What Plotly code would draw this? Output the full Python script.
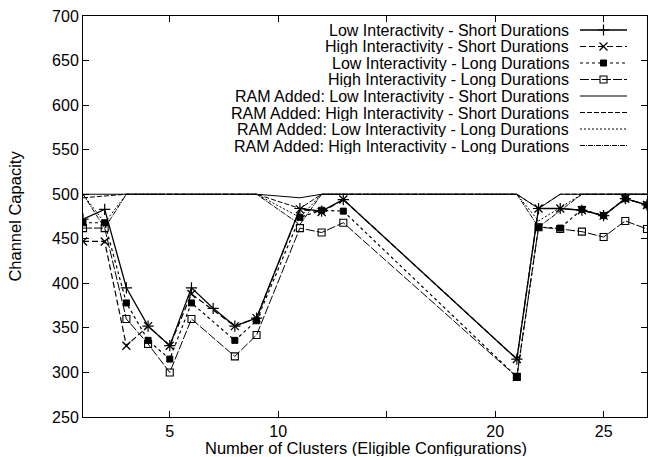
import plotly.graph_objects as go

# Cluster counts evaluated
clusters = [1, 2, 3, 4, 5, 6, 7, 8, 9, 11, 12, 13, 21, 22, 23, 24, 25, 26, 27]

low_short = [472, 483, 395, 352, 330, 395, 372, 352, 361, 484, 481, 494, 315, 484, 484, 482, 476, 495, 488]
high_short = [447, 447, 330, 352, 330, 388, None, 352, 361, 483, 480, 494, 315, 484, 484, 482, 476, 495, 488]
low_long = [468, 468, 378, 336, 315, 378, None, 336, 358, 474, 482, 481, 295, 463, 462, 483, 476, 495, 488]
high_long = [462, 462, 360, 332, 300, 360, None, 318, 342, 462, 457, 468, 295, 463, 461, 458, 452, 470, 461]

# RAM-added capacities (capped at 500)
ram_low_short_x = [1, 9, 11, 12, 21, 22, 23, 27]
ram_low_short = [500, 500, 496, 500, 500, 484, 500, 500]
ram_high_short_x = [1, 3, 9, 11, 12, 21, 22, 23, 27]
ram_high_short = [496, 500, 500, 484, 500, 500, 484, 500, 500]
ram_low_long_x = [1, 2, 3, 9, 11, 12, 21, 22, 24, 27]
ram_low_long = [500, 468, 500, 500, 474, 500, 500, 470, 500, 500]
ram_high_long_x = [1, 2, 3, 9, 11, 12, 21, 22, 24, 27]
ram_high_long = [500, 462, 500, 500, 466, 500, 500, 463, 500, 500]

legend_names = [
    "Low Interactivity - Short Durations",
    "High Interactivity - Short Durations",
    "Low Interactivity - Long Durations",
    "High Interactivity - Long Durations",
    "RAM Added: Low Interactivity - Short Durations",
    "RAM Added: High Interactivity - Short Durations",
    "RAM Added: Low Interactivity - Long Durations",
    "RAM Added: High Interactivity - Long Durations",
]

FONT = "Liberation Sans, Arial, sans-serif"
FS_TICK = 16
FS_KEY = 16
FS_TITLE = 16.5

styles = [
    dict(line=dict(color="black", width=1.3, dash="solid"),
         marker=dict(symbol="cross-thin-open", size=8, color="black", line=dict(color="black", width=1.2))),
    dict(line=dict(color="black", width=1.2, dash="6px,3px"),
         marker=dict(symbol="x-thin-open", size=8, color="black", line=dict(color="black", width=1.3))),
    dict(line=dict(color="black", width=1.2, dash="3px,3px"),
         marker=dict(symbol="square", size=6, color="black", line=dict(color="black", width=1))),
    dict(line=dict(color="black", width=1.0, dash="9px,2px"),
         marker=dict(symbol="square-open", size=7, color="black", line=dict(color="black", width=1.1))),
    dict(line=dict(color="black", width=1.0, dash="solid")),
    dict(line=dict(color="black", width=1.0, dash="5px,2px")),
    dict(line=dict(color="black", width=1.0, dash="2px,2px")),
    dict(line=dict(color="black", width=1.0, dash="5px,1px,1px,1px")),
]

series = [
    (clusters, low_short), (clusters, high_short), (clusters, low_long), (clusters, high_long),
    (ram_low_short_x, ram_low_short), (ram_high_short_x, ram_high_short),
    (ram_low_long_x, ram_low_long), (ram_high_long_x, ram_high_long),
]

fig = go.Figure()

for i, ((xs, ys), st) in enumerate(zip(series, styles)):
    mode = "lines+markers" if "marker" in st else "lines"
    fig.add_trace(go.Scatter(x=xs, y=ys, mode=mode, connectgaps=True,
                             showlegend=False, name=legend_names[i], **st))

# Key drawn inside the plot: right-aligned text with the line sample to its right
W, H = 648, 457
L, R, T, B = 83, 1, 16, 40
pw, ph = W - L - R, H - T - B
row0, step = 30, 16.5
text_right = (570 - L) / pw
s0, s1 = (580 - L) / pw, (627 - L) / pw
for i, name in enumerate(legend_names):
    yf = (H - B - (row0 + i * step)) / ph
    fig.add_annotation(x=text_right, y=yf, xref="paper", yref="paper", text=name,
                       showarrow=False, xanchor="right", yanchor="middle",
                       height=16, valign="middle", borderpad=0,
                       font=dict(family=FONT, size=FS_KEY, color="black"))
    st = styles[i]
    fig.add_trace(go.Scatter(x=[s0, s1], y=[yf, yf], mode="lines", xaxis="x2", yaxis="y2",
                             showlegend=False, hoverinfo="skip", line=st["line"]))
    if "marker" in st:
        fig.add_trace(go.Scatter(x=[(s0 + s1) / 2], y=[yf], mode="markers", xaxis="x2", yaxis="y2",
                                 showlegend=False, hoverinfo="skip", marker=st["marker"]))

# x-axis title placed just under the tick labels
fig.add_annotation(x=(366 - L) / pw, y=-(448 - (H - B)) / ph, xref="paper", yref="paper",
                   text="Number of Clusters (Eligible Configurations)", showarrow=False,
                   xanchor="center", yanchor="middle", height=16, valign="middle", borderpad=0,
                   font=dict(family=FONT, size=FS_TITLE, color="black"))

axis_common = dict(showline=True, linecolor="black", linewidth=1, mirror="ticks",
                   ticks="inside", ticklen=6, tickcolor="black", showgrid=False, zeroline=False,
                   tickfont=dict(family=FONT, size=FS_TICK, color="black"))

fig.update_layout(
    width=W, height=H,
    margin=dict(l=L, r=R, t=T, b=B),
    paper_bgcolor="white", plot_bgcolor="white",
    xaxis=dict(range=[1, 27], tickvals=[5, 10, 15, 20, 25], ticktext=["5", "10", "", "20", "25"],
               **axis_common),
    yaxis=dict(range=[250, 700], tickvals=list(range(250, 701, 50)),
               title=dict(text="Channel Capacity", standoff=26,
                          font=dict(family=FONT, size=FS_TITLE, color="black")),
               **axis_common),
    xaxis2=dict(overlaying="x", range=[0, 1], visible=False, fixedrange=True),
    yaxis2=dict(overlaying="y", range=[0, 1], visible=False, fixedrange=True),
)

fig.write_html("out.html")
